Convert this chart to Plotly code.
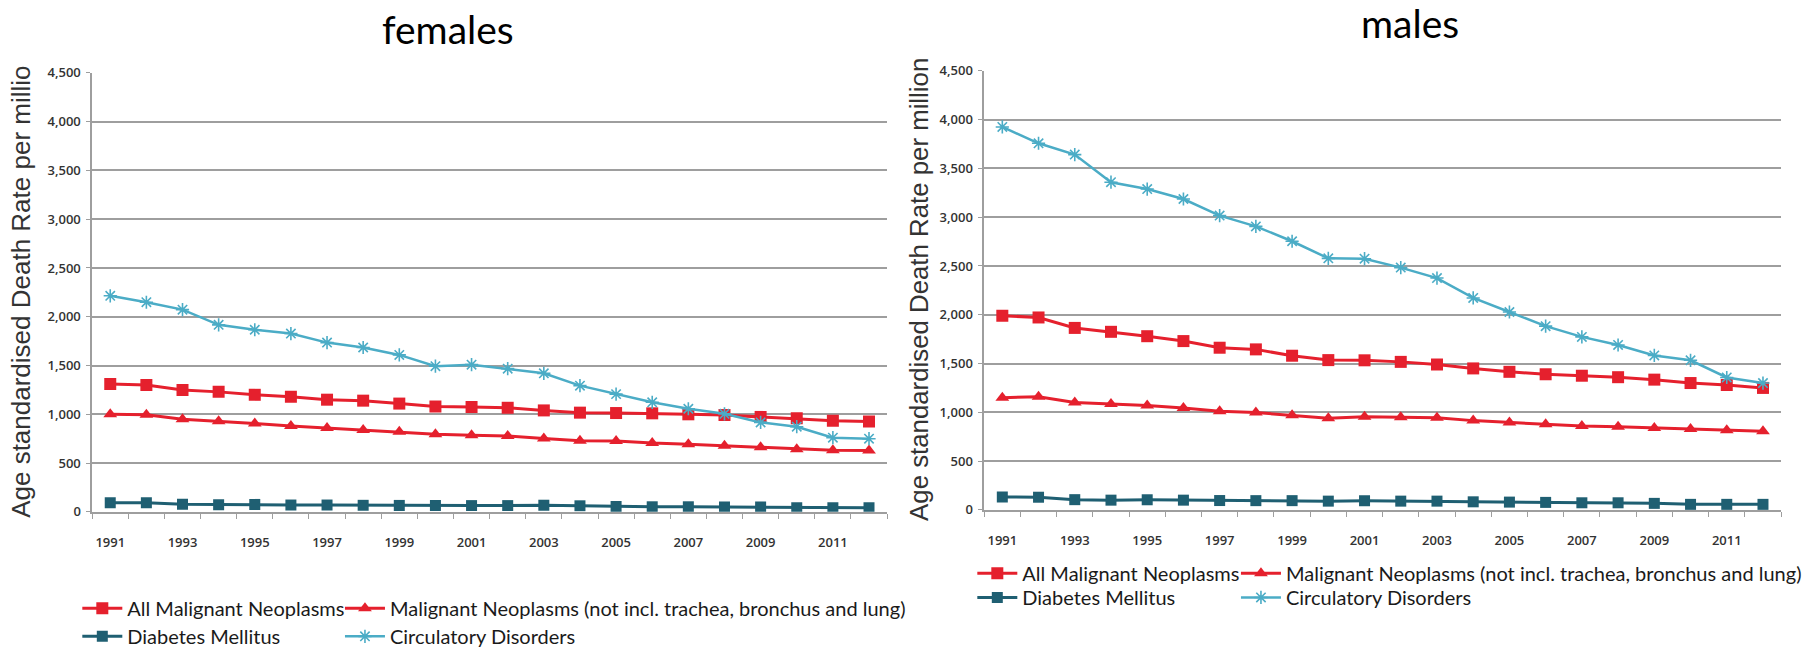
import plotly.graph_objects as go

W, H = 1807, 658

years = [1991, 1992, 1993, 1994, 1995, 1996, 1997, 1998, 1999, 2000, 2001,
         2002, 2003, 2004, 2005, 2006, 2007, 2008, 2009, 2010, 2011, 2012]
year_labels = [1991, 1993, 1995, 1997, 1999, 2001, 2003, 2005, 2007, 2009, 2011]
y_ticks = [0, 500, 1000, 1500, 2000, 2500, 3000, 3500, 4000, 4500]

series_names = [
    "All Malignant Neoplasms",
    "Malignant Neoplasms (not incl. trachea, bronchus and lung)",
    "Diabetes Mellitus",
    "Circulatory Disorders",
]

# females, age standardised death rate per million
f_all_malignant = [1310, 1300, 1250, 1230, 1200, 1180, 1150, 1140, 1110, 1080, 1075,
                   1067, 1040, 1017, 1013, 1010, 1000, 993, 973, 960, 933, 927]
f_malignant_excl = [1000, 995, 950, 930, 905, 880, 860, 840, 820, 795, 785,
                    778, 752, 730, 727, 705, 692, 678, 662, 643, 632, 630]
f_diabetes = [93, 93, 77, 73, 76, 70, 70, 67, 66, 65, 64,
              64, 68, 62, 55, 52, 52, 50, 50, 42, 42, 42]
f_circulatory = [2215, 2149, 2073, 1917, 1867, 1828, 1735, 1685, 1609, 1493, 1509,
                 1468, 1420, 1294, 1207, 1123, 1057, 1005, 917, 873, 760, 750]

# males, age standardised death rate per million
m_all_malignant = [1990, 1972, 1865, 1825, 1780, 1730, 1662, 1645, 1580, 1535, 1533,
                   1517, 1490, 1450, 1415, 1390, 1375, 1360, 1335, 1300, 1280, 1250]
m_malignant_excl = [1150, 1160, 1100, 1085, 1070, 1045, 1010, 997, 970, 940, 955,
                    950, 945, 915, 895, 877, 860, 853, 840, 828, 815, 805]
m_diabetes = [132, 130, 105, 100, 104, 100, 96, 95, 95, 90, 94,
              90, 90, 83, 80, 77, 73, 73, 67, 57, 57, 57]
m_circulatory = [3924, 3757, 3641, 3358, 3288, 3186, 3016, 2905, 2753, 2578, 2574,
                 2483, 2376, 2172, 2028, 1883, 1773, 1690, 1583, 1533, 1357, 1300]

RED = "#e5202d"
TEAL = "#1f5f72"
BLUE = "#4bacc6"
GRID = "#9e9e9e"

styles = [
    dict(color=RED, symbol="square", size=12, width=3),
    dict(color=RED, symbol="triangle-up", size=12, width=3),
    dict(color=TEAL, symbol="square", size=11, width=3),
    dict(color=BLUE, symbol="asterisk-open", size=11, width=2.5),
]

panels = [
    dict(xa="x", ya="y", data=[f_all_malignant, f_malignant_excl, f_diabetes, f_circulatory],
         legends=["legend", "legend2", "legend3", "legend4"]),
    dict(xa="x2", ya="y2", data=[m_all_malignant, m_malignant_excl, m_diabetes, m_circulatory],
         legends=["legend5", "legend6", "legend7", "legend8"]),
]

fig = go.Figure()
for p in panels:
    for name, vals, st, lg in zip(series_names, p["data"], styles, p["legends"]):
        marker = dict(symbol=st["symbol"], size=st["size"], color=st["color"])
        if st["symbol"].endswith("open"):
            marker["line"] = dict(color=st["color"], width=1.6)
        fig.add_trace(go.Scatter(
            x=years, y=vals, name=name, mode="lines+markers",
            line=dict(color=st["color"], width=st["width"]),
            marker=marker, xaxis=p["xa"], yaxis=p["ya"], legend=lg,
            showlegend=True,
        ))


def px_x(v):
    return v / W


def px_y(v):
    return 1 - v / H


def x_axis(x0, x1, anchor):
    # major ticks are invisible and only space the labels; the visible
    # marks are the minor ticks between the yearly categories
    return dict(
        domain=[px_x(x0), px_x(x1)], range=[1990.5, 2012.5], anchor=anchor,
        tickmode="array", tickvals=year_labels, ticktext=[str(v) for v in year_labels],
        ticks="outside", ticklen=18, tickcolor="rgba(0,0,0,0)",
        showgrid=False, zeroline=False,
        showline=True, linecolor=GRID, linewidth=1.5,
        tickfont=dict(family="Open Sans", size=13, color="#333333", weight=600),
        minor=dict(tick0=1990.5, dtick=1, ticks="outside", ticklen=5,
                   tickcolor=GRID, tickwidth=1, showgrid=False),
    )


def y_axis(top, bottom, anchor):
    return dict(
        domain=[px_y(bottom), px_y(top)], range=[0, 4500], anchor=anchor,
        tickmode="array", tickvals=y_ticks, tickformat=",d",
        showgrid=True, gridcolor=GRID, gridwidth=1.6, zeroline=False,
        showline=True, linecolor=GRID, linewidth=1.5,
        ticks="outside", ticklen=4, tickcolor=GRID,
        tickfont=dict(family="Open Sans", size=13, color="#333333", weight=600),
        ticklabelstandoff=3,
    )


legend_font = dict(family="Lato", size=20, color="#1a1a1a")


def legend_at(x, y):
    return dict(x=px_x(x), y=px_y(y), xanchor="left", yanchor="middle",
                bgcolor="rgba(0,0,0,0)", borderwidth=0, font=legend_font,
                itemwidth=40, orientation="v", visible=True)


fig.update_layout(
    width=W, height=H,
    margin=dict(l=0, r=0, t=0, b=0),
    paper_bgcolor="white", plot_bgcolor="white",
    showlegend=True,
    xaxis=x_axis(93, 895, "y"), yaxis=y_axis(65.7, 517, "x"),
    xaxis2=x_axis(993, 1797, "y2"), yaxis2=y_axis(63.5, 515, "x2"),
    legend=legend_at(78, 616), legend2=legend_at(343, 616),
    legend3=legend_at(78, 645), legend4=legend_at(343, 645),
    legend5=legend_at(981, 580), legend6=legend_at(1247, 580),
    legend7=legend_at(981, 605), legend8=legend_at(1247, 605),
    annotations=[
        dict(text="females", x=px_x(452), y=px_y(21), xref="paper", yref="paper",
             xanchor="center", yanchor="middle", showarrow=False,
             font=dict(family="Lato", size=39, color="black")),
        dict(text="males", x=px_x(1423), y=px_y(14), xref="paper", yref="paper",
             xanchor="center", yanchor="middle", showarrow=False,
             font=dict(family="Lato", size=39, color="black")),
        dict(text="Age standardised Death Rate per millio", x=px_x(21), y=px_y(291),
             xref="paper", yref="paper", xanchor="center", yanchor="middle",
             textangle=-90, showarrow=False,
             font=dict(family="Liberation Sans", size=26, color="#333333")),
        dict(text="Age standardised Death Rate per million", x=px_x(927), y=px_y(288),
             xref="paper", yref="paper", xanchor="center", yanchor="middle",
             textangle=-90, showarrow=False,
             font=dict(family="Liberation Sans", size=25.8, color="#333333")),
    ],
)

fig.write_html("out.html")
